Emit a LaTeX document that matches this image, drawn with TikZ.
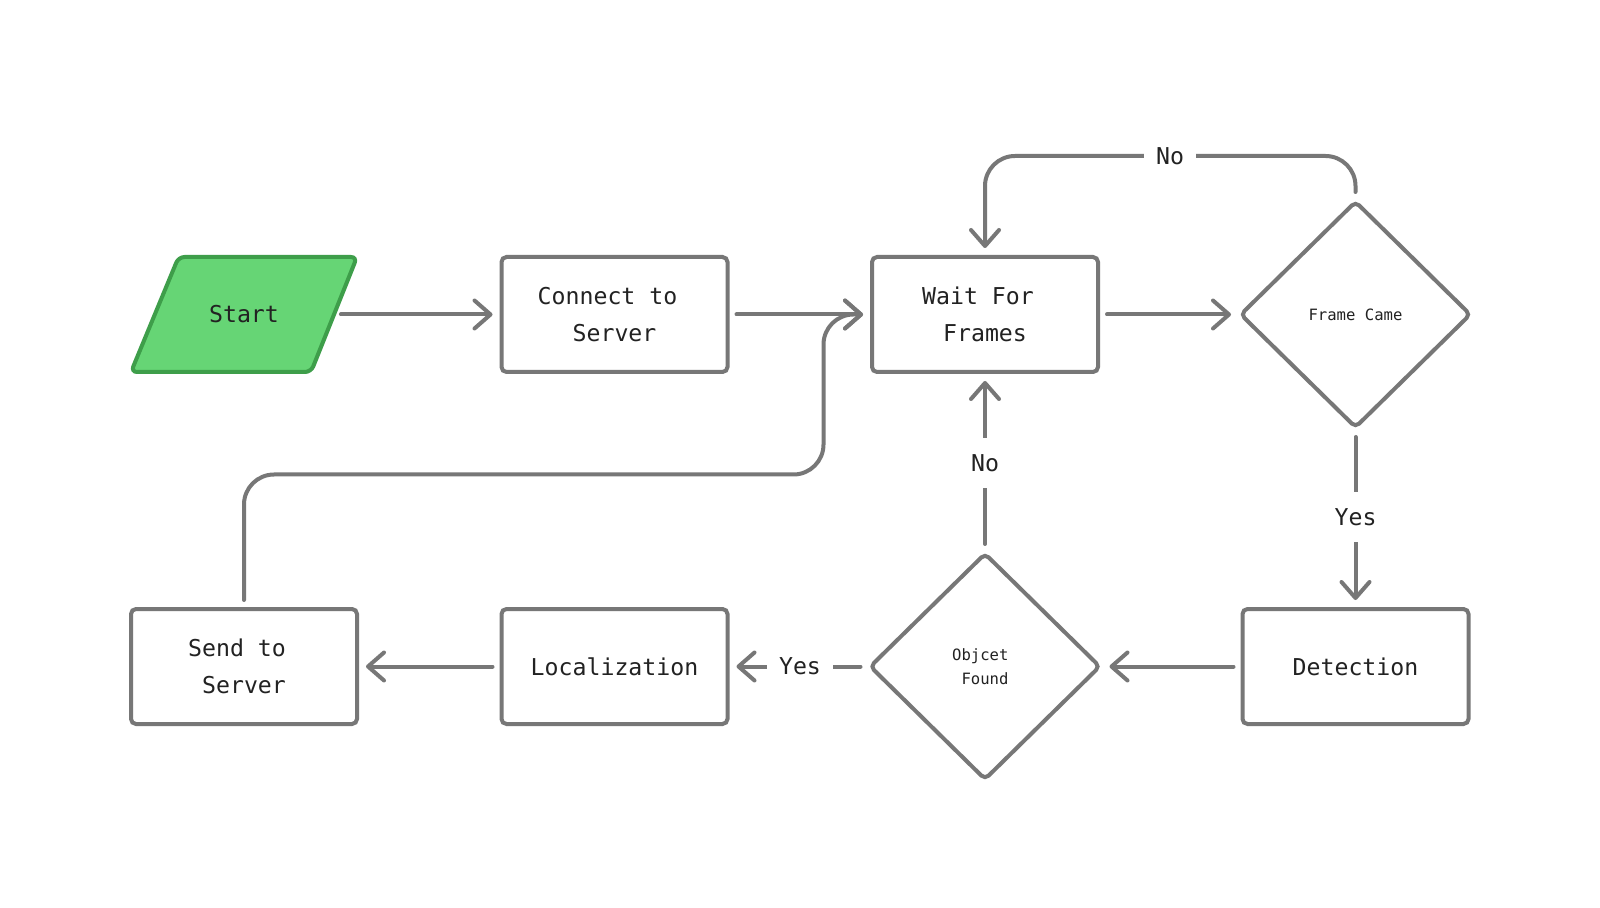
\documentclass[tikz,border=0pt]{standalone}
\usepackage{fontspec}
\setmonofont{DejaVu Sans Mono}
\usetikzlibrary{arrows.meta,shapes.geometric}
\definecolor{lc}{HTML}{777777}
\definecolor{gfill}{HTML}{66D575}
\definecolor{gline}{HTML}{3E9E4A}
\definecolor{tc}{HTML}{222222}
\begin{document}
\begin{tikzpicture}[x=0.5pt,y=-0.5pt,
  mainfont/.style={font=\ttfamily\fontsize{11.6}{18.4}\selectfont},
  box/.style={draw=lc, line width=2pt, rounded corners=2.5pt, minimum width=113pt, minimum height=57.5pt, inner sep=0pt, align=center, text=tc, mainfont},
  dia/.style={diamond, draw=lc, line width=2pt, rounded corners=2.5pt, minimum width=115.5pt, minimum height=113.5pt, inner sep=0pt, align=center, text=tc, font=\ttfamily\fontsize{7.8}{12.2}\selectfont},
  conn/.style={draw=lc, line width=2pt, -{Straight Barb[length=8pt,width=14pt,round]}, shorten >=3.5pt, shorten <=3.5pt, line cap=round, rounded corners=15pt},
  lbl/.style={fill=white, inner xsep=6pt, inner ysep=0pt, minimum height=25pt, text=tc, mainfont}
]
\fill[white] (0,0) rectangle (1600,908);
\useasboundingbox (0,0) rectangle (1600,908);

% Start parallelogram
\filldraw[fill=gfill, draw=gline, line width=2pt, rounded corners=3pt]
  (178.6,257) -- (357,257) -- (311,372) -- (131,372) -- cycle;
\node[text=tc, mainfont, minimum width=89.5pt, minimum height=57.5pt, inner sep=0pt] (start) at (244,314.5) {\raisebox{-0.5pt}{Start}};

\node[box] (connect) at (614.5,314.5) {Connect to\hphantom{x}\\Server};
\node[box] (wait) at (985,314.5) {Wait For\hphantom{x}\\Frames};
\node[dia] (frame) at (1355.5,314.5) {Frame Came};
\node[box] (detect) at (1355.5,666.5) {Detection};
\node[dia] (found) at (985,666.5) {Objcet\hphantom{x}\\Found};
\node[box] (local) at (614.5,666.5) {Localization};
\node[box] (send) at (244,666.5) {Send to\hphantom{x}\\Server};

\coordinate (topc) at (985,156);
\coordinate (retc) at (823.5,474.5);

\draw[conn] (start.east) -- (connect.west);
\draw[conn] (connect.east) -- (wait.west);
\draw[conn] (wait.east) -- (frame.west);
\draw[conn] (frame.north) |- (topc) -- (wait.north);
\draw[conn] (frame.south) -- (detect.north);
\draw[conn] (detect.west) -- (found.east);
\draw[conn] (found.north) -- (wait.south);
\draw[conn] (found.west) -- (local.east);
\draw[conn] (local.west) -- (send.east);
\draw[conn] (send.north) |- (retc) |- (wait.west);

\node[lbl] (lno1) at (1170,156) {No};
\node[lbl] (lno2) at (985,463) {No};
\node[lbl] (lyes1) at (1355.5,517) {Yes};
\node[lbl] (lyes2) at (800,666.5) {Yes};
\end{tikzpicture}
\end{document}
